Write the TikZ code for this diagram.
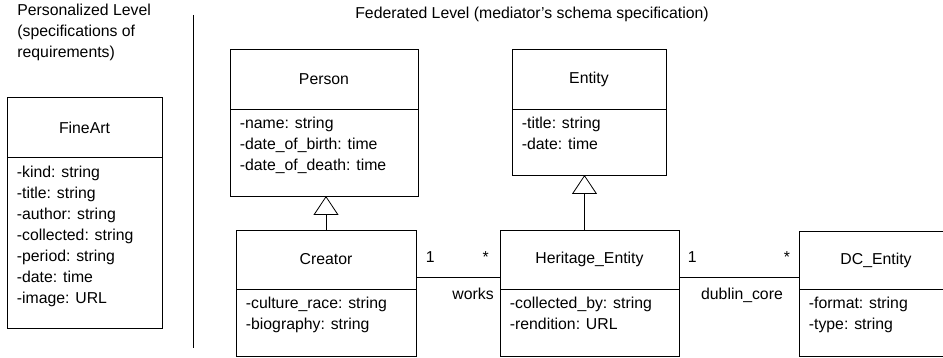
\documentclass[tikz,border=0pt]{standalone}
\usepackage{fontspec}
\setmainfont{Liberation Sans}
\usepackage{tikz}
\usetikzlibrary{arrows.meta,positioning}
\newcommand{\umlfont}{\fontsize{15.8}{21}\selectfont}
\tikzset{
  clshead/.style={draw, rectangle, minimum height=60pt, outer sep=0pt, inner sep=0pt},
  clsbody/.style={draw, rectangle, outer sep=0pt, below=0pt of #1},
  attrs/.style={anchor=north west, align=left, inner xsep=9.5pt, inner ysep=8pt,
    execute at begin node=\strut},
  lvl/.style={anchor=north west, align=left, inner sep=0pt, execute at begin node=\strut},
  mult/.style={anchor=base, inner sep=0pt},
  gen/.style={-{Triangle[open, length=19pt, width=25pt]}},
  >=Stealth
}

\begin{document}
\begin{tikzpicture}[x=1pt, y=-1pt, line width=0.8pt, every node/.style={font=\umlfont}]
  \useasboundingbox (0,0) rectangle (943,358);
  % level captions
  \node[lvl] (persLvl) at (17,3.8) {Personalized Level\\(specifications of\\requirements)};
  \node[lvl, anchor=north] (fedLvl) at (532,3.8) {Federated Level (mediator's schema specification)};
  \draw (193,15) -- (193,348);
  % personalized level
  \node[clshead, minimum width=155pt] (fineA) at (84.5,127.5) {FineArt};
  \node[clsbody=fineA, minimum width=155pt, minimum height=171pt] (fineB) {};
  \node[attrs] at (fineB.north west) {-kind: string\\-title: string\\-author: string\\-collected: string\\-period: string\\-date: time\\-image: URL};
  % federated level
  \node[clshead, minimum width=188pt] (personA) at (324,79) {Person};
  \node[clsbody=personA, minimum width=188pt, minimum height=87pt] (personB) {};
  \node[attrs] at (personB.north west) {-name: string\\-date\_of\_birth: time\\-date\_of\_death: time};

  \node[clshead, minimum width=154pt] (entityA) at (589,79) {Entity};
  \node[clsbody=entityA, minimum width=154pt, minimum height=66pt] (entityB) {};
  \node[attrs] at (entityB.north west) {-title: string\\-date: time};

  \node[clshead, minimum width=180pt, minimum height=59pt] (creatorA) at (326,259.5) {Creator};
  \node[clsbody=creatorA, minimum width=180pt, minimum height=67pt] (creatorB) {};
  \node[attrs] at (creatorB.north west) {-culture\_race: string\\-biography: string};

  \node[clshead, minimum width=179pt, minimum height=59pt] (heritageA) at (589.5,259.5) {Heritage\_Entity};
  \node[clsbody=heritageA, minimum width=179pt, minimum height=67pt] (heritageB) {};
  \node[attrs] at (heritageB.north west) {-collected\_by: string\\-rendition: URL};

  \node[clshead, minimum width=154pt, minimum height=58pt] (dcA) at (876,260) {DC\_Entity};
  \node[clsbody=dcA, minimum width=154pt, minimum height=67pt] (dcB) {};
  \node[attrs] at (dcB.north west) {-format: string\\-type: string};
  % generalisations
  \draw[gen] (creatorA.north) -- (creatorA.north |- personB.south);
  \draw[gen] ([xshift=-5pt]heritageA.north) -- ([xshift=-5pt]heritageA.north |- entityB.south);
  % associations
  \coordinate (assocY) at (0,277);
  \draw (creatorA.east |- assocY) --
    node[mult, pos=0.17, yshift=14pt] {1}
    node[mult, pos=0.83, yshift=14pt] {*}
    node[mult, pos=0.68, yshift=-23pt] {works} (heritageA.west |- assocY);
  \draw (heritageA.east |- assocY) --
    node[mult, pos=0.11, yshift=14pt] {1}
    node[mult, pos=0.9, yshift=14pt] {*}
    node[mult, pos=0.525, yshift=-23pt] {dublin\_core} (dcA.west |- assocY);
\end{tikzpicture}
\end{document}
